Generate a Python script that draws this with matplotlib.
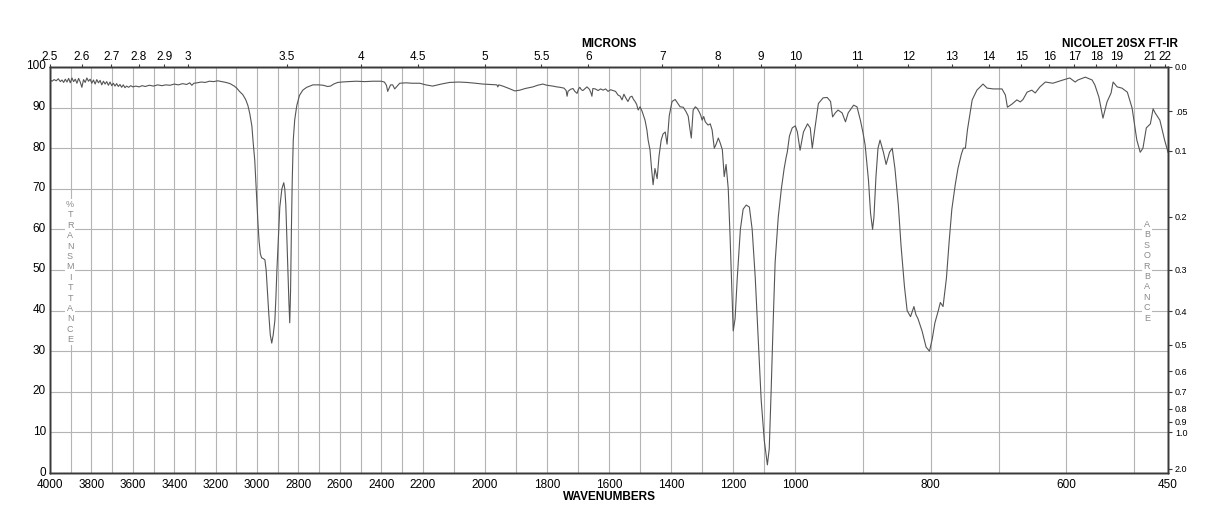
import numpy as np
import matplotlib.pyplot as plt
from matplotlib.ticker import NullLocator
from matplotlib.transforms import ScaledTranslation

plt.rcParams['font.family'] = ['Liberation Sans', 'DejaVu Sans']

# spectrum (cm-1, %T)
wavenumber = [
    4000, 3990, 3980, 3970, 3960, 3950, 3942, 3934, 3926, 3918, 3910, 3902, 3894, 3886, 3878,
    3870, 3862, 3854, 3846, 3838, 3830, 3822, 3814, 3806, 3798, 3790, 3782, 3774, 3766, 3758,
    3750, 3742, 3734, 3726, 3718, 3710, 3702, 3694, 3686, 3678, 3670, 3662, 3654, 3646, 3638,
    3630, 3620, 3610, 3600, 3585, 3570, 3555, 3540, 3520, 3500, 3480, 3460, 3440, 3420, 3400,
    3380, 3360, 3340, 3325, 3315, 3305, 3290, 3270, 3250, 3230, 3210, 3190, 3170, 3150, 3130,
    3110, 3098, 3085, 3069, 3055, 3044, 3035, 3025, 3018, 3011, 3005, 3000, 2995, 2990, 2984,
    2978, 2970, 2962, 2956, 2950, 2943, 2936, 2929, 2922, 2914, 2909, 2904, 2897, 2890, 2880,
    2871, 2866, 2861, 2856, 2851, 2846, 2842, 2838, 2834, 2830, 2825, 2818, 2808, 2795, 2779,
    2760, 2730, 2700, 2680, 2660, 2645, 2630, 2610, 2590, 2560, 2520, 2480, 2440, 2400, 2385,
    2375, 2369, 2362, 2355, 2345, 2335, 2325, 2311, 2280, 2250, 2214, 2190, 2168, 2140, 2113,
    2085, 2058, 2030, 2006, 1980, 1961, 1958, 1955, 1942, 1925, 1903, 1887, 1870, 1845, 1830,
    1813, 1800, 1781, 1768, 1758, 1745, 1738, 1735, 1732, 1724, 1716, 1710, 1703, 1698, 1694,
    1689, 1684, 1677, 1671, 1663, 1658, 1655, 1652, 1644, 1635, 1627, 1619, 1611, 1603, 1595,
    1587, 1579, 1571, 1564, 1558, 1552, 1546, 1539, 1532, 1526, 1521, 1516, 1511, 1506, 1500,
    1493, 1484, 1478, 1474, 1468, 1463, 1458, 1452, 1445, 1439, 1432, 1426, 1419, 1413, 1406,
    1397, 1387, 1378, 1371, 1361, 1352, 1345, 1339, 1335, 1329, 1322, 1316, 1310, 1305, 1300,
    1295, 1290, 1281, 1274, 1268, 1261, 1255, 1248, 1242, 1235, 1229, 1223, 1216, 1210, 1203,
    1200, 1194, 1187, 1177, 1168, 1158, 1148, 1139, 1129, 1119, 1110, 1100, 1090, 1084, 1078,
    1071, 1065, 1055, 1045, 1036, 1029, 1026, 1019, 1010, 1000, 997, 993, 988, 982, 978,
    975, 971, 966, 959, 953, 948, 945, 941, 937, 931, 926, 922, 914, 909, 904,
    900, 897, 892, 889, 886, 884, 881, 878, 875, 870, 866, 861, 857, 853, 848,
    844, 839, 835, 830, 827, 825, 822, 819, 813, 807, 802, 798, 794, 789, 786,
    782, 777, 773, 769, 764, 760, 755, 752, 749, 746, 739, 732, 723, 717, 708,
    695, 690, 687, 680, 673, 668, 664, 658, 651, 646, 639, 631, 620, 605, 595,
    587, 583, 572, 562, 558, 552, 546, 540, 534, 531, 525, 518, 510, 503, 496,
    491, 487, 482, 476, 472, 469, 462, 455, 450,
]
transmittance = [
    96.8, 96.5, 96.9, 96.6, 97.1, 96.4, 96.8, 96.2, 97.0, 96.3, 97.2, 96.1, 97.3, 96.4, 97.0,
    96.0, 97.2, 96.3, 95.0, 96.9, 96.2, 97.3, 96.5, 97.0, 96.0, 96.8, 95.8, 96.9, 96.1, 96.7,
    95.6, 96.5, 95.8, 96.4, 95.5, 96.3, 95.4, 96.0, 95.3, 95.9, 95.2, 95.7, 95.0, 95.6, 94.9,
    95.3, 95.0, 95.4, 95.1, 95.3, 95.1, 95.4, 95.2, 95.5, 95.3, 95.6, 95.4, 95.6, 95.5, 95.8,
    95.6, 95.9, 95.7, 96.1, 95.5, 96.0, 96.1, 96.3, 96.2, 96.5, 96.4, 96.6, 96.4, 96.2, 95.9,
    95.3, 94.8, 94.0, 93.2, 92.0, 90.5, 88.5, 85.5, 81.0, 77.0, 71.0, 66.0, 61.0, 57.0, 54.0,
    53.0, 52.8, 52.5, 50.0, 45.0, 39.0, 34.0, 32.0, 34.0, 37.5, 43.0, 50.0, 58.0, 65.5, 70.0,
    71.5, 70.0, 66.0, 58.0, 50.0, 42.0, 37.0, 45.0, 60.0, 72.0, 82.0, 87.0, 90.5, 93.0, 94.3,
    95.0, 95.6, 95.6, 95.5, 95.2, 95.3, 95.8, 96.2, 96.3, 96.4, 96.5, 96.4, 96.5, 96.5, 96.3,
    95.5, 94.0, 94.8, 95.6, 95.6, 94.6, 95.2, 96.0, 96.1, 96.0, 96.0, 95.6, 95.3, 95.8, 96.2,
    96.3, 96.2, 96.0, 95.8, 95.7, 95.6, 95.1, 95.6, 95.3, 94.8, 94.1, 94.3, 94.7, 95.1, 95.5,
    95.8, 95.5, 95.3, 95.1, 95.0, 94.8, 94.2, 92.8, 94.0, 94.5, 94.7, 94.0, 93.5, 94.6, 95.0,
    94.4, 94.2, 94.7, 95.1, 94.5, 93.6, 92.8, 94.7, 94.6, 94.2, 94.6, 94.3, 94.6, 94.0, 94.4,
    94.2, 94.0, 93.1, 92.8, 91.9, 93.3, 92.4, 91.5, 92.6, 92.8, 92.0, 91.5, 90.8, 89.4, 90.2,
    89.0, 86.9, 84.5, 82.0, 79.6, 75.0, 71.0, 75.0, 72.5, 78.0, 82.0, 83.5, 84.0, 81.0, 88.0,
    91.5, 92.0, 91.0, 90.2, 90.1, 89.0, 87.9, 84.5, 82.5, 89.4, 90.2, 89.8, 89.0, 88.2, 86.9,
    87.8, 86.5, 85.7, 86.0, 84.5, 80.0, 81.0, 82.5, 81.3, 79.6, 73.0, 76.0, 70.0, 58.0, 42.0,
    35.0, 38.0, 48.0, 60.0, 65.0, 66.0, 65.5, 60.0, 48.0, 32.0, 18.0, 8.0, 2.0, 6.0, 20.0,
    38.0, 52.0, 63.0, 70.0, 75.0, 78.0, 79.0, 83.0, 85.0, 85.5, 84.0, 79.5, 84.0, 86.0, 85.0,
    80.0, 85.0, 91.0, 92.4, 92.5, 91.5, 87.7, 88.7, 89.4, 88.7, 86.5, 88.7, 90.6, 90.2, 86.9,
    83.7, 80.8, 72.0, 64.0, 60.0, 63.0, 73.0, 80.0, 82.0, 79.0, 76.0, 79.0, 80.0, 75.0, 66.0,
    56.0, 46.0, 40.0, 38.5, 40.0, 41.0, 39.0, 38.0, 35.0, 31.0, 30.0, 33.0, 37.0, 40.0, 42.0,
    41.0, 48.0, 57.0, 65.0, 71.0, 75.0, 78.5, 80.0, 80.0, 84.5, 91.9, 94.3, 95.8, 94.8, 94.6,
    94.6, 93.1, 90.1, 90.9, 91.9, 91.4, 92.0, 93.8, 94.3, 93.6, 95.1, 96.3, 96.0, 96.8, 97.3,
    96.3, 96.8, 97.5, 96.8, 95.6, 92.6, 87.4, 91.4, 93.6, 96.3, 95.1, 94.8, 93.8, 89.9, 82.0,
    79.0, 80.0, 85.0, 86.0, 89.7, 88.7, 86.9, 82.0, 79.0,
]

wn_labels = [4000, 3800, 3600, 3400, 3200, 3000, 2800, 2600, 2400, 2200, 2000,
             1800, 1600, 1400, 1200, 1000, 800, 600, 450]
wn_grid = list(range(3900, 900, -100)) + [900, 800, 700, 600, 500]
micron_ticks = [2.5, 2.6, 2.7, 2.8, 2.9, 3, 3.5, 4, 4.5, 5, 5.5, 6, 7, 8, 9, 10,
                11, 12, 13, 14, 15, 16, 17, 18, 19, 21, 22]
absorbance_ticks = [0.0, 0.05, 0.1, 0.2, 0.3, 0.4, 0.5, 0.6, 0.7, 0.8, 0.9, 1.0, 2.0]
absorbance_labels = ['0.0', '.05', '0.1', '0.2', '0.3', '0.4', '0.5', '0.6', '0.7',
                     '0.8', '0.9', '1.0', '2.0']

# chart paper: three equal-width sections 4000-2200, 2200-1000, 1000-450
brk_wn = [450, 1000, 2200, 4000]
brk_u = [0, 1, 2, 3]


def fwd(x):
    return np.interp(x, brk_wn, brk_u)


def inv(u):
    return np.interp(u, brk_u, brk_wn)


grid_c = '#b4b4b4'
spine_c = '#3a3a3a'

fig = plt.figure(figsize=(12.18, 5.28), dpi=100)
ax = fig.add_axes([50 / 1218, 1 - 473 / 528, 1118 / 1218, 406 / 528])
ax.set_xscale('function', functions=(fwd, inv))
ax.set_xlim(4000, 450)
ax.set_ylim(0, 100)

ax.plot(wavenumber, transmittance, color='#555555', lw=0.8, zorder=3)

ax.set_xticks(wn_labels)
ax.set_xticklabels([str(v) for v in wn_labels])
ax.set_xticks(wn_grid, minor=True)
ax.set_yticks(range(0, 101, 10))
ax.yaxis.set_minor_locator(NullLocator())
ax.tick_params(axis='x', which='both', length=0, pad=4, labelsize=8.5)
ax.tick_params(axis='y', which='both', length=0, pad=3, labelsize=8.5)
ax.grid(axis='x', which='both', color=grid_c, lw=0.8)
ax.grid(axis='y', which='major', color=grid_c, lw=0.8)
for s in ax.spines.values():
    s.set_color(spine_c)
    s.set_linewidth(1.0)
# %T labels sit a touch above their lines
up = ScaledTranslation(0, 0.02, fig.dpi_scale_trans)
for lab in ax.get_yticklabels():
    lab.set_transform(lab.get_transform() + up)

# top: microns
tax = ax.twiny()
tax.set_xscale('function', functions=(fwd, inv))
tax.set_xlim(4000, 450)
tax.set_xticks([10000 / m for m in micron_ticks])
tax.set_xticklabels([f'{m:g}' for m in micron_ticks])
tax.xaxis.set_minor_locator(NullLocator())
tax.tick_params(axis='x', which='major', length=2.5, width=0.8, pad=0.5,
                labelsize=8.5, color=spine_c)

# right: absorbance
rax = ax.twinx()
rax.set_ylim(0, 100)
rax.set_yticks([100 * 10 ** (-a) for a in absorbance_ticks])
rax.set_yticklabels(absorbance_labels)
rax.yaxis.set_minor_locator(NullLocator())
rax.tick_params(axis='y', which='major', length=3, width=0.8, pad=2,
                labelsize=6.5, color=spine_c)
for a in (tax, rax):
    for s in a.spines.values():
        s.set_color(spine_c)
        s.set_linewidth(1.0)

ax.text(20 / 1118, 0.495, '\n'.join('%TRANSMITTANCE'), transform=ax.transAxes,
        ha='center', va='center', fontsize=6.5, color='#8a8a8a', linespacing=1.2,
        bbox=dict(facecolor='white', edgecolor='none', pad=1), zorder=4)
ax.text(1097 / 1118, 0.497, '\n'.join('ABSORBANCE'), transform=ax.transAxes,
        ha='center', va='center', fontsize=6.5, color='#8a8a8a', linespacing=1.2,
        bbox=dict(facecolor='white', edgecolor='none', pad=1), zorder=4)

fig.text(609 / 1218, 1 - 44 / 528, 'MICRONS', ha='center', va='center',
         fontsize=8.5, fontweight='bold')
fig.text(1120 / 1218, 1 - 44 / 528, 'NICOLET 20SX FT-IR', ha='center', va='center',
         fontsize=8.5, fontweight='bold')
fig.text(609 / 1218, 1 - 497 / 528, 'WAVENUMBERS', ha='center', va='center',
         fontsize=8.5, fontweight='bold')

fig.savefig('out.png', dpi=100)
